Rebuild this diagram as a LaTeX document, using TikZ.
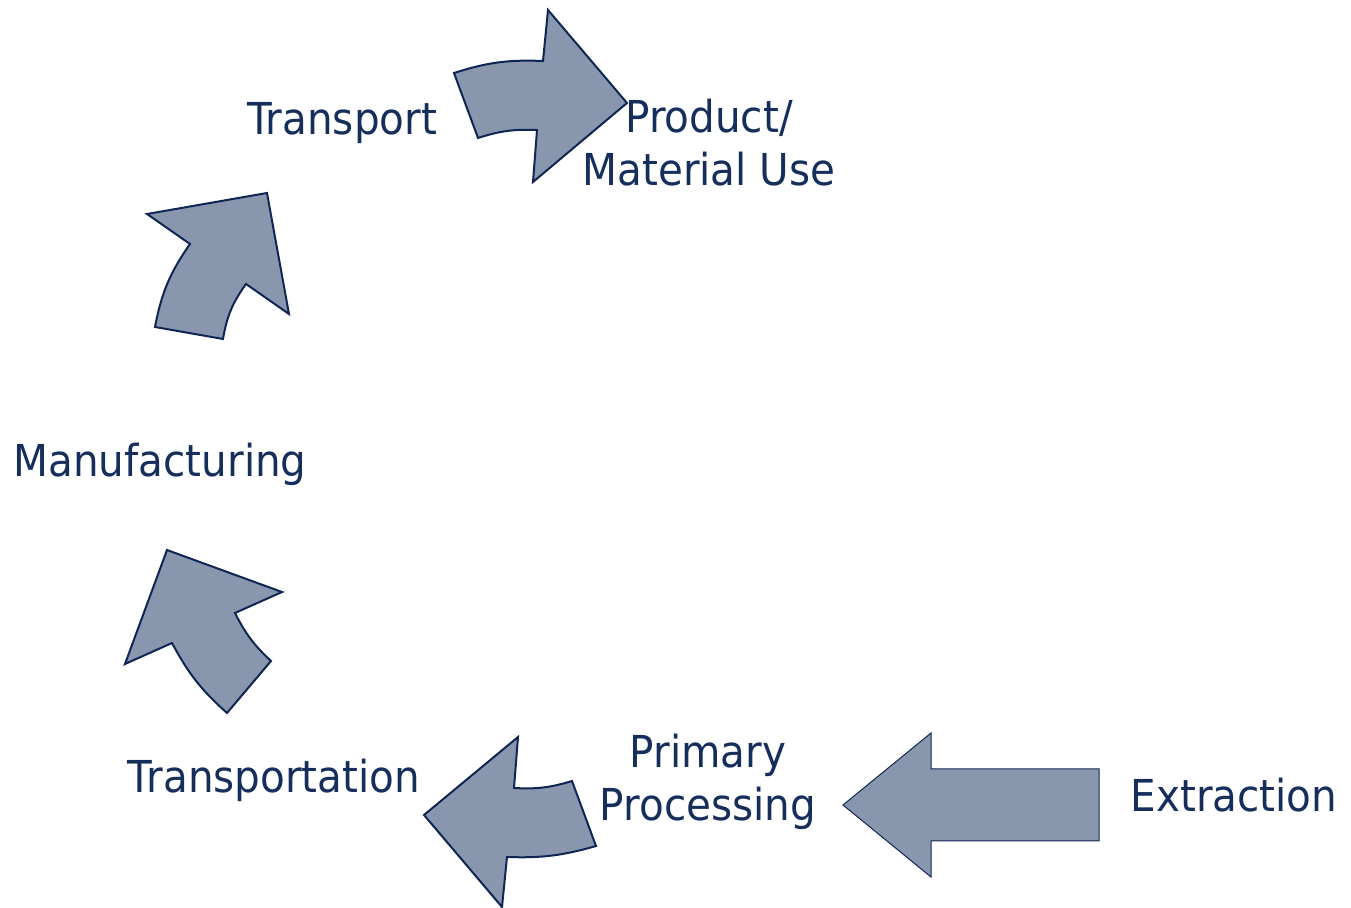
\documentclass[tikz,border=0pt]{standalone}
\usepackage{fontspec}
\setmainfont{DejaVu Sans}[FakeStretch=0.92]
\usepackage{xcolor}
\usetikzlibrary{positioning}
\definecolor{stagetext}{RGB}{21,46,92}
\definecolor{arrowfill}{RGB}{136,150,174}
\definecolor{arrowdraw}{RGB}{15,38,84}
\tikzset{flow/.style = {fill=arrowfill, draw=arrowdraw, line width=1pt, line join=miter}}

\begin{document}
\begin{tikzpicture}[x=0.5pt,y=-0.5pt,stage/.style={text=stagetext,font=\fontsize{22}{26.5}\selectfont,align=center,inner sep=0pt}]
                \useasboundingbox (0,0) rectangle (1351,908);

                \node[stage, anchor=base] (transport) at (342,135) {Transport};
                \node[stage] (use) at (709,143) {Product/\\Material Use};
                \node[stage, anchor=base] (manuf) at (160,477) {Manufacturing};
                \node[stage, anchor=base] (transportation) at (274,793) {Transportation};
                \node[stage] (primary) at (708,782) {Primary\\Processing};
                \node[stage, anchor=base] (extraction) at (1234,812) {Extraction};

                % curved block arrows round the cycle
                \draw[flow] (454,73) to[bend left=10] (543,61) -- (548,10) -- (627,103) -- (533,182) -- (537,130) to[bend right=10] (478,138) -- cycle;
                \draw[flow] (155,327) to[bend left=12] (190,244) -- (147,214) -- (267,193) -- (289,314) -- (246,284) to[bend right=13] (223,339) -- cycle;
                \draw[flow] (227,713) to[bend left=10] (172,643) -- (125,664) -- (167,550) -- (282,592) -- (235,613) to[bend right=10] (271,661) -- cycle;
                \draw[flow] (424,815) -- (518,737) -- (514,788) to[bend right=10] (572,781) -- (596,846) to[bend left=9] (507,857) -- (502,907) -- cycle;

                % straight arrow from extraction
                \draw[flow, line width=0.5pt] (843,805) -- (931,733) -- (931,769) -- (1099,769) -- (1099,841) -- (931,841) -- (931,877) -- cycle;
            \end{tikzpicture}
\end{document}
